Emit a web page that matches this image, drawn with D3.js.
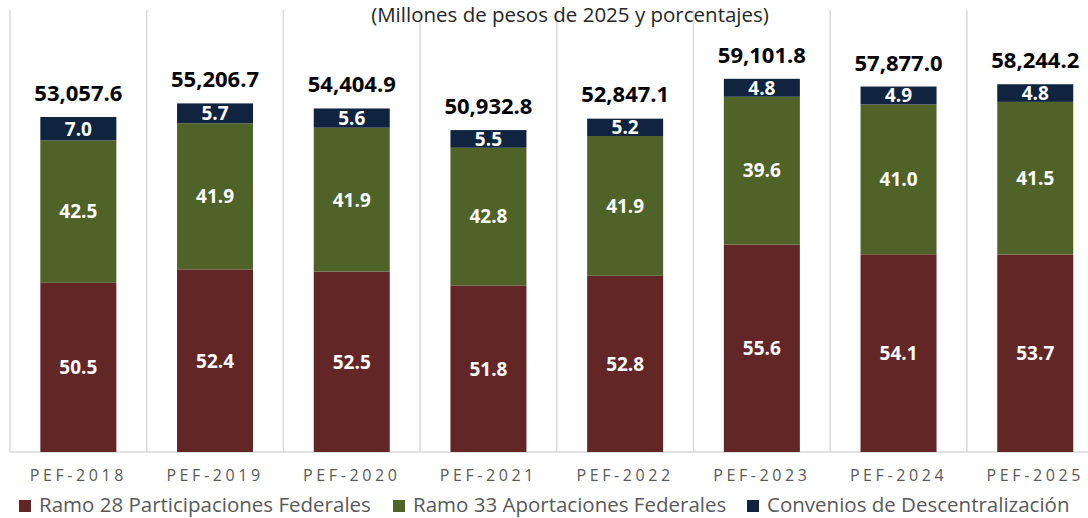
<!DOCTYPE html>
<html><head><meta charset="utf-8">
<script src="https://cdn.jsdelivr.net/npm/d3@7"></script>
<style>
html,body{margin:0;padding:0;background:#fff;}
svg{display:block;font-family:"Open Sans",sans-serif;}
</style></head>
<body><svg id="c" width="1088" height="518"></svg>
<script>
const categories = ["PEF-2018","PEF-2019","PEF-2020","PEF-2021","PEF-2022","PEF-2023","PEF-2024","PEF-2025"];
const totals = [53057.6, 55206.7, 54404.9, 50932.8, 52847.1, 59101.8, 57877.0, 58244.2];
const ramo28 = [50.5, 52.4, 52.5, 51.8, 52.8, 55.6, 54.1, 53.7];
const ramo33 = [42.5, 41.9, 41.9, 42.8, 41.9, 39.6, 41.0, 41.5];
const convenios = [7.0, 5.7, 5.6, 5.5, 5.2, 4.8, 4.9, 4.8];
const seriesNames = ["Ramo 28 Participaciones Federales","Ramo 33 Aportaciones Federales","Convenios de Descentralización"];
const colors = ["#622626","#4F6228","#10243F"];
const title = "(Millones de pesos de 2025 y porcentajes)";

const svg = d3.select("#c");
const x = d3.scaleBand().domain(categories).range([10, 1103.6]).paddingInner(0.444).paddingOuter(0.222);
const y = d3.scaleLinear().domain([0, 70000]).range([452, 10]);
const step = x.step();

// gridlines
const g = svg.append("g");
d3.range(categories.length + 1).forEach(i => {
  g.append("line").attr("x1", 10 + i*step).attr("x2", 10 + i*step)
   .attr("y1", y(70000)).attr("y2", y(0)).attr("stroke", "#D9D9D9").attr("stroke-width", 1.5);
});
g.append("line").attr("x1", 10).attr("x2", 1088).attr("y1", y(0)).attr("y2", y(0))
  .attr("stroke", "#D9D9D9").attr("stroke-width", 1.5);

// stacked data
const series = [ramo28, ramo33, convenios];
categories.forEach((c, i) => {
  let acc = 0;
  series.forEach((s, k) => {
    const v0 = totals[i] * acc / 100;
    acc += s[i];
    const v1 = totals[i] * acc / 100;
    svg.append("rect").attr("x", x(c)).attr("width", x.bandwidth())
      .attr("y", y(v1)).attr("height", y(v0) - y(v1)).attr("fill", colors[k]);
    svg.append("text").attr("x", x(c) + x.bandwidth()/2).attr("y", (y(v0) + y(v1))/2)
      .attr("dy", "0.36em").attr("text-anchor", "middle").attr("fill", "#fff")
      .attr("font-weight", "bold").attr("font-size", 19).text(s[i].toFixed(1));
  });
  svg.append("text").attr("x", x(c) + x.bandwidth()/2).attr("y", y(totals[i]) - 16)
    .attr("text-anchor", "middle").attr("fill", "#000").attr("font-weight", "bold")
    .attr("font-size", 22).text(d3.format(",.1f")(totals[i]));
});

// x axis
const ax = svg.append("g").attr("transform", `translate(0,${y(0)})`)
  .call(d3.axisBottom(x).tickSize(0).tickPadding(18));
ax.select(".domain").remove();
ax.selectAll("text").attr("font-family", "'Open Sans',sans-serif").attr("font-size", 16)
  .attr("fill", "#595959").attr("letter-spacing", "3.6px");

// title
svg.append("text").attr("x", 570).attr("y", 22).attr("text-anchor", "middle")
  .attr("font-size", 20.5).attr("fill", "#262626").text(title);

// legend
const legX = [19, 393, 747];
seriesNames.forEach((n, k) => {
  svg.append("rect").attr("x", legX[k]).attr("y", 500).attr("width", 12).attr("height", 12).attr("fill", colors[k]);
  svg.append("text").attr("x", legX[k] + 20).attr("y", 512).attr("font-size", 20.5)
    .attr("fill", "#595959").text(n);
});
</script></body></html>
